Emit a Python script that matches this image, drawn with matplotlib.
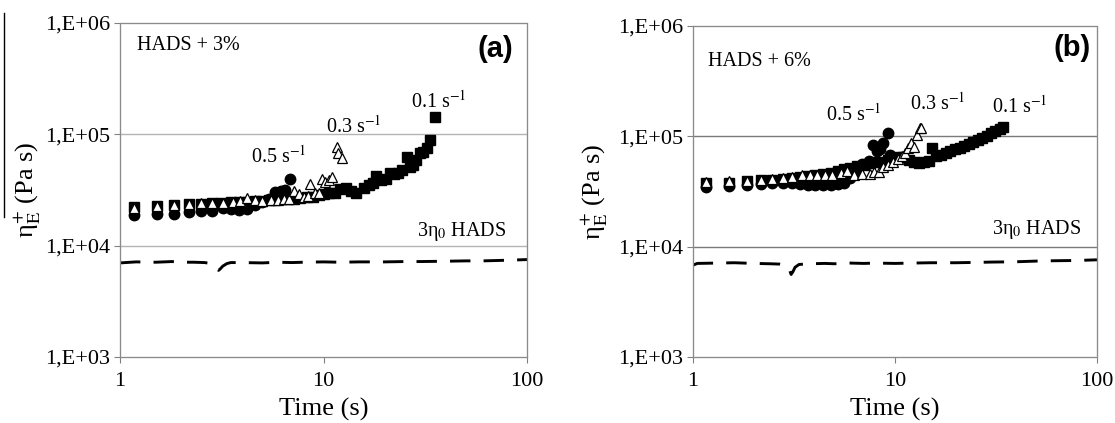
import matplotlib
matplotlib.use("Agg")
import matplotlib.pyplot as plt
from matplotlib.lines import Line2D

plt.rcParams['font.family'] = ['Liberation Serif', 'DejaVu Serif']
plt.rcParams['mathtext.fontset'] = 'stix'

# ---------------- Panel (a): HADS + 3% ----------------
a_t_01 = [1.17, 1.52, 1.84, 2.19, 2.51, 2.83, 3.15, 3.5, 3.85, 4.2, 4.6, 5.0, 5.4, 5.8, 6.2, 6.7,
          7.2, 7.7, 8.3, 8.9, 9.5, 10.1, 10.7, 11.4, 12.1, 12.9, 13.6, 14.4, 15.9, 16.7, 17.5,
          18.2, 19.2, 20.2, 21.2, 22.2, 23.3, 24.4, 25.6, 26.7, 27.5, 28.6, 29.7, 30.8, 32.1,
          33.3, 35.3]
a_v_01 = [2.24e4, 2.28e4, 2.32e4, 2.35e4, 2.37e4, 2.4e4, 2.42e4, 2.45e4, 2.47e4, 2.48e4, 2.5e4,
          2.53e4, 2.55e4, 2.57e4, 2.6e4, 2.62e4, 2.65e4, 2.7e4, 2.75e4, 2.76e4, 2.85e4, 2.9e4,
          2.96e4, 3.0e4, 3.2e4, 3.3e4, 3.1e4, 2.95e4, 3.3e4, 3.5e4, 3.65e4, 4.2e4, 3.9e4, 4.0e4,
          4.5e4, 4.4e4, 4.5e4, 4.8e4, 6.3e4, 5.1e4, 5.3e4, 5.9e4, 6.8e4, 7.0e4, 7.6e4, 8.9e4,
          1.44e5]
a_t_03 = [1.17, 1.52, 1.84, 2.19, 2.51, 2.83, 3.2, 3.6, 3.9, 4.2, 4.6, 5.0, 5.5, 6.0, 6.4, 6.8,
          7.2, 7.6, 8.0, 8.4, 8.6, 9.1, 9.5, 9.8, 10.2, 10.6, 10.95, 11.6, 11.8, 12.3]
a_v_03 = [2.2e4, 2.25e4, 2.3e4, 2.35e4, 2.4e4, 2.4e4, 2.42e4, 2.45e4, 2.5e4, 2.7e4, 2.55e4,
          2.5e4, 2.55e4, 2.55e4, 2.6e4, 2.6e4, 3.1e4, 2.9e4, 2.75e4, 2.8e4, 3.6e4, 2.95e4,
          3.0e4, 3.95e4, 3.75e4, 3.9e4, 4.1e4, 7.7e4, 6.8e4, 6.1e4]
a_t_05 = [1.17, 1.52, 1.84, 2.19, 2.51, 2.83, 3.2, 3.5, 3.85, 4.2, 4.6, 5.0, 5.4, 5.8, 6.2, 6.5,
          6.85]
a_v_05 = [1.87e4, 1.92e4, 1.93e4, 2.02e4, 2.05e4, 2.03e4, 2.2e4, 2.15e4, 2.1e4, 2.15e4, 2.3e4,
          2.45e4, 2.6e4, 3.05e4, 3.1e4, 3.15e4, 3.95e4]
a_t_ref = [1.0, 1.2, 1.5, 1.8, 2.0, 2.3, 2.6, 2.75, 2.9, 3.0, 3.05, 3.1, 3.2, 3.35, 3.5, 4, 5,
           6, 7, 8, 10, 12, 15, 20, 25, 30, 40, 50, 60, 70, 80, 100]
a_v_ref = [7000, 7150, 7100, 7200, 7100, 7100, 7050, 6950, 6600, 6150, 6000, 6150, 6550, 6900,
           7050, 7050, 7000, 7100, 7050, 7100, 7150, 7100, 7150, 7150, 7200, 7200, 7250, 7300,
           7300, 7350, 7400, 7500]

# ---------------- Panel (b): HADS + 6% ----------------
b_t_01 = [1.16, 1.51, 1.86, 2.18, 2.47, 2.8, 3.1, 3.4, 3.7, 4.0, 4.4, 4.8, 5.2, 5.6, 6.0, 6.5,
          7.0, 7.5, 8.0, 8.6, 9.2, 9.8, 10.4, 11.0, 11.7, 12.4, 13.1, 13.9, 14.7, 15.2, 16.0,
          16.9, 17.8, 18.8, 19.8, 20.9, 22.0, 23.2, 24.4, 25.7, 27.0, 28.4, 29.9, 31.4, 33.0,
          34.2]
b_v_01 = [3.75e4, 3.8e4, 3.9e4, 4.0e4, 4.05e4, 4.1e4, 4.2e4, 4.3e4, 4.4e4, 4.5e4, 4.6e4, 4.7e4,
          4.9e4, 5.1e4, 5.2e4, 5.4e4, 5.5e4, 5.7e4, 5.8e4, 5.9e4, 6.1e4, 6.3e4, 6.5e4, 6.5e4,
          6.1e4, 5.9e4, 5.7e4, 5.8e4, 6.0e4, 7.8e4, 6.6e4, 6.8e4, 7.0e4, 7.3e4, 7.6e4, 7.8e4,
          8.1e4, 8.6e4, 8.9e4, 9.3e4, 9.7e4, 1.0e5, 1.07e5, 1.12e5, 1.17e5, 1.21e5]
b_t_03 = [1.16, 1.51, 1.86, 2.18, 2.47, 2.8, 3.1, 3.46, 3.8, 4.1, 4.5, 4.9, 5.4, 5.8, 6.3, 6.9,
          7.5, 7.9, 8.3, 8.7, 9.2, 9.8, 10.3, 10.8, 11.2, 11.6, 12.0, 12.4, 12.8, 13.3, 13.5]
b_v_03 = [3.85e4, 3.9e4, 3.95e4, 4.05e4, 4.1e4, 4.15e4, 4.3e4, 4.45e4, 4.45e4, 4.45e4, 4.5e4,
          4.5e4, 4.7e4, 4.9e4, 4.5e4, 4.6e4, 4.6e4, 4.8e4, 4.75e4, 5.3e4, 5.5e4, 5.8e4, 6.2e4,
          6.6e4, 7.1e4, 7.8e4, 8.7e4, 8.0e4, 1.02e5, 1.19e5, 1.19e5]
b_t_05 = [1.16, 1.51, 1.86, 2.18, 2.47, 2.8, 3.1, 3.4, 3.7, 4.0, 4.4, 4.8, 5.2, 5.6, 6.0, 6.4,
          6.9, 7.4, 7.8, 8.1, 8.4, 8.7, 9.27, 9.45]
b_v_05 = [3.5e4, 3.55e4, 3.6e4, 3.7e4, 3.75e4, 3.75e4, 3.8e4, 3.7e4, 3.6e4, 3.6e4, 3.6e4,
          3.65e4, 3.7e4, 3.75e4, 4.2e4, 4.6e4, 5.6e4, 6.0e4, 8.3e4, 7.4e4, 7.7e4, 8.7e4,
          1.08e5, 6.8e4]
b_t_ref = [1.0, 1.05, 1.3, 1.6, 2.0, 2.4, 2.7, 2.85, 2.95, 3.02, 3.06, 3.12, 3.2, 3.35, 3.8,
           4.5, 5, 6, 7, 8, 10, 12, 15, 20, 25, 30, 40, 50, 60, 80, 100]
b_v_ref = [6800, 7050, 7100, 7150, 7050, 7000, 6950, 6850, 6500, 6000, 5600, 5900, 6500, 6900,
           7000, 7050, 7000, 7100, 7050, 7100, 7050, 7100, 7150, 7150, 7200, 7250, 7300, 7400,
           7450, 7500, 7600]

y_ticks = [1e3, 1e4, 1e5, 1e6]
y_ticklabels = ["1,E+03", "1,E+04", "1,E+05", "1,E+06"]
x_ticks = [1, 10, 100]
x_ticklabels = ["1", "10", "100"]
rate_labels = ["0.5 s$^{-1}$", "0.3 s$^{-1}$", "0.1 s$^{-1}$"]

fig = plt.figure(figsize=(11.15, 4.23), dpi=100)
axA = fig.add_axes([120/1115, 1-357/423, 407/1115, 334/423])
axB = fig.add_axes([693/1115, 1-357/423, 404/1115, 331/423])


def setup(ax, gridcolor):
    ax.set_xscale('log')
    ax.set_yscale('log')
    ax.set_xlim(1, 100)
    ax.set_ylim(1e3, 1e6)
    ax.set_yticks(y_ticks)
    ax.set_yticklabels(y_ticklabels)
    ax.set_xticks(x_ticks)
    ax.set_xticklabels(x_ticklabels)
    ax.minorticks_off()
    ax.tick_params(axis='both', labelsize=16, length=4, width=0.8, color='#808080', direction='out')
    ax.tick_params(axis='y', pad=3)
    ax.tick_params(axis='x', pad=7)
    for s in ax.spines.values():
        s.set_color('#8a8a8a')
        s.set_linewidth(0.9)
        s.set_linestyle((0, (1, 0.6)))
    for yv in [1e4, 1e5]:
        ax.axhline(yv, color=gridcolor, lw=1.0, zorder=0)
    ax.set_xlabel("Time (s)", fontsize=19, labelpad=5)


def draw(ax, t01, v01, t03, v03, t05, v05, tref, vref):
    ax.plot(tref, vref, color='black', lw=2.1, dashes=(7, 4.5), zorder=2)
    ax.plot(t05, v05, 'o', ms=7.5, color='black', mec='black', zorder=3, ls='none')
    ax.plot(t01, v01, 's', ms=7.8, color='black', mec='black', zorder=4, ls='none')
    ax.plot(t03, v03, '^', ms=7.6, mfc='white', mec='black', mew=0.9, zorder=5, ls='none')


setup(axA, '#b4b4b4')
setup(axB, '#7a7a7a')
draw(axA, a_t_01, a_v_01, a_t_03, a_v_03, a_t_05, a_v_05, a_t_ref, a_v_ref)
draw(axB, b_t_01, b_v_01, b_t_03, b_v_03, b_t_05, b_v_05, b_t_ref, b_v_ref)

ylab = "η$_\\mathrm{E}^{+}$ (Pa s)"
axA.set_ylabel(ylab, fontsize=19)
axA.yaxis.set_label_coords(-0.19, 0.5)
axB.set_ylabel(ylab, fontsize=19)
axB.yaxis.set_label_coords(-0.205, 0.5)

# Panel (a) annotations
axA.text(0.042, 0.933, "HADS + 3%", transform=axA.transAxes, fontsize=14.5, va='center', ha='left')
axA.text(0.965, 0.923, "(a)", transform=axA.transAxes, fontsize=21, fontweight='bold',
         family='Liberation Sans', va='center', ha='right')
axA.text(0.322, 0.600, rate_labels[0], transform=axA.transAxes, fontsize=14.5, va='center', ha='left')
axA.text(0.506, 0.689, rate_labels[1], transform=axA.transAxes, fontsize=14.5, va='center', ha='left')
axA.text(0.716, 0.764, rate_labels[2], transform=axA.transAxes, fontsize=14.5, va='center', ha='left')
axA.text(0.729, 0.376, "3η$_0$ HADS", transform=axA.transAxes, fontsize=14.5, va='center', ha='left')

# Panel (b) annotations
axB.text(0.038, 0.892, "HADS + 6%", transform=axB.transAxes, fontsize=14.5, va='center', ha='left')
axB.text(0.984, 0.933, "(b)", transform=axB.transAxes, fontsize=21, fontweight='bold',
         family='Liberation Sans', va='center', ha='right')
axB.text(0.330, 0.731, rate_labels[0], transform=axB.transAxes, fontsize=14.5, va='center', ha='left')
axB.text(0.538, 0.767, rate_labels[1], transform=axB.transAxes, fontsize=14.5, va='center', ha='left')
axB.text(0.741, 0.757, rate_labels[2], transform=axB.transAxes, fontsize=14.5, va='center', ha='left')
axB.text(0.741, 0.384, "3η$_0$ HADS", transform=axB.transAxes, fontsize=14.5, va='center', ha='left')

# thin scan artefact line at the far left of panel (a)
fig.add_artist(Line2D([3.5/1115, 3.5/1115], [1-13/423, 1-217/423], transform=fig.transFigure,
                      color='black', lw=1.0))

fig.savefig("out.png", dpi=100)
